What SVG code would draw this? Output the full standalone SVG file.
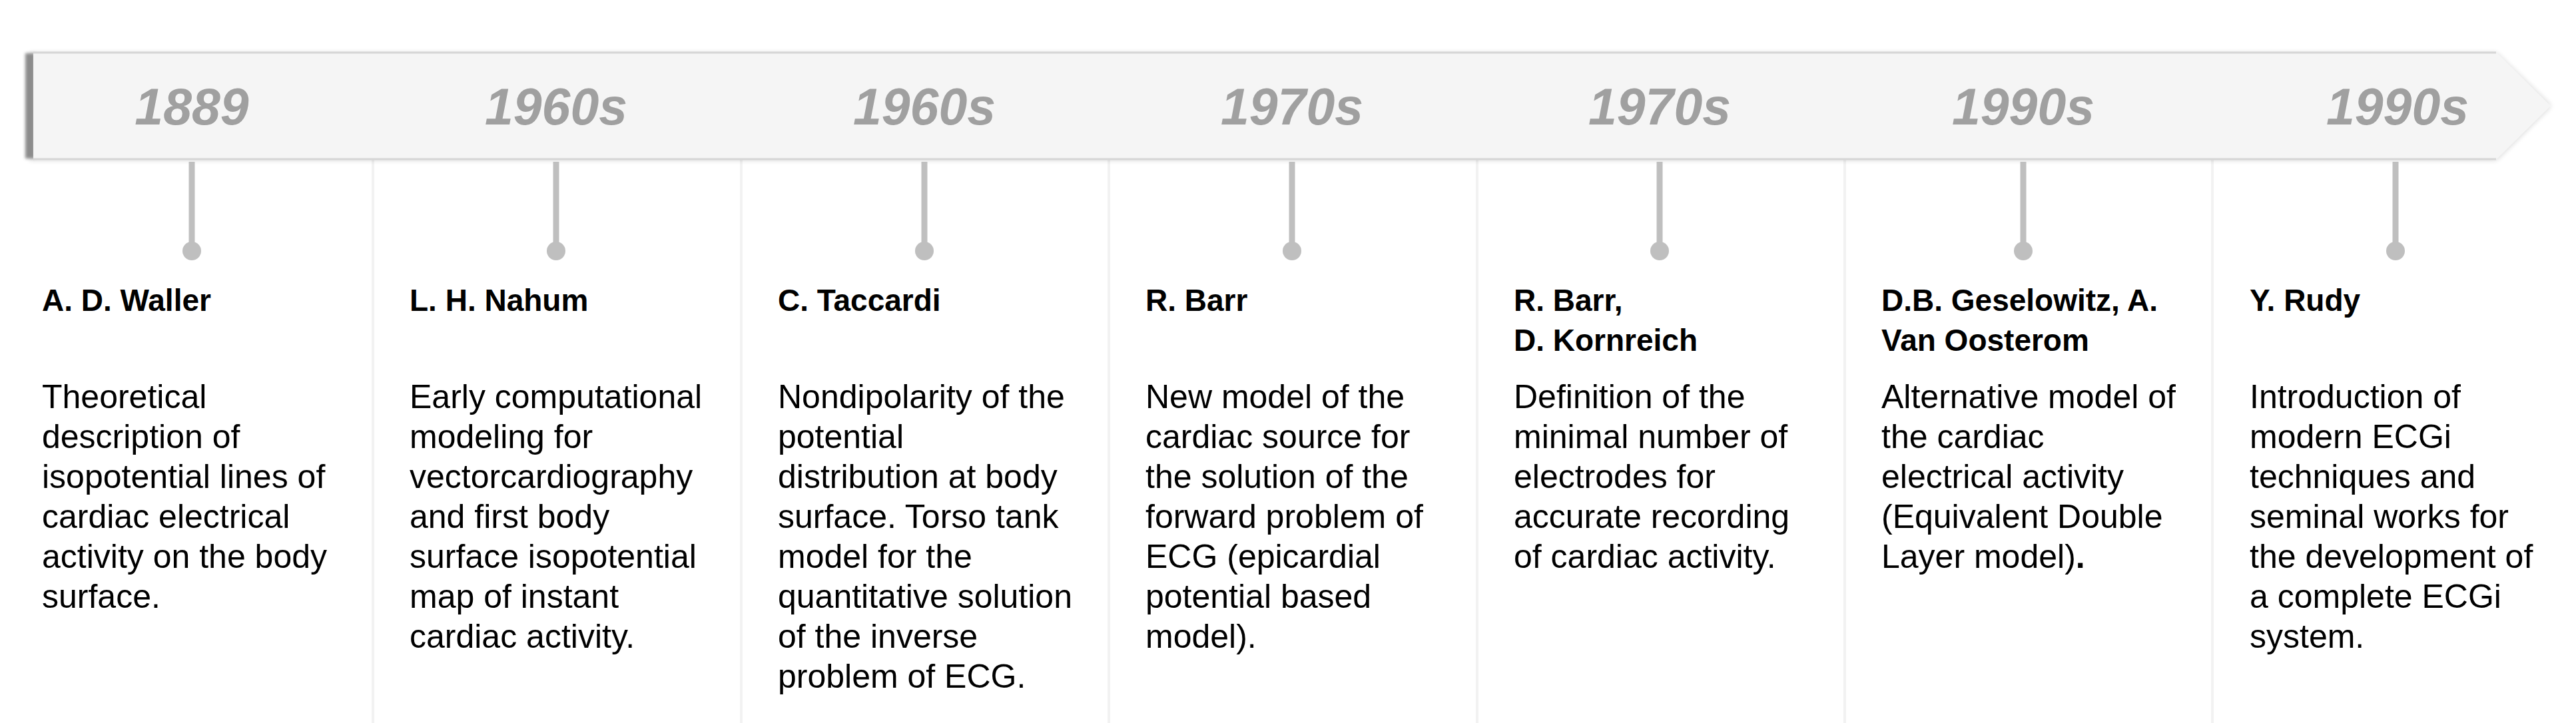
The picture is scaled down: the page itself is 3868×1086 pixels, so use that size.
<svg xmlns="http://www.w3.org/2000/svg" width="3868" height="1086" viewBox="0 0 3868 1086">
  <defs>
    <filter id="soft" x="-5%" y="-30%" width="110%" height="160%">
      <feGaussianBlur stdDeviation="4"/>
    </filter>
    <filter id="edge" x="-100%" y="-10%" width="300%" height="120%">
      <feGaussianBlur stdDeviation="2"/>
    </filter>
    <style>
      .year { font-family: "Liberation Sans", Arial, sans-serif; font-size: 77px; font-weight: bold; font-style: italic; fill: #a0a0a0; text-anchor: middle; }
      .name { font-family: "Liberation Sans", Arial, sans-serif; font-size: 46px; font-weight: bold; fill: #000000; }
      .desc { font-family: "Liberation Sans", Arial, sans-serif; font-size: 50px; fill: #000000; }
      .sep { stroke: #f2f2f2; stroke-width: 4; }
      .stem { stroke: #bfbfbf; stroke-width: 9; }
      .dot { fill: #bfbfbf; }
    </style>
  </defs>
  <rect width="3868" height="1086" fill="#ffffff"/>

  <!-- column separators -->
  <g id="separators">
    <line class="sep" x1="560" y1="240" x2="560" y2="1086"/>
    <line class="sep" x1="1113" y1="240" x2="1113" y2="1086"/>
    <line class="sep" x1="1665" y1="240" x2="1665" y2="1086"/>
    <line class="sep" x1="2218" y1="240" x2="2218" y2="1086"/>
    <line class="sep" x1="2770" y1="240" x2="2770" y2="1086"/>
    <line class="sep" x1="3322" y1="240" x2="3322" y2="1086"/>
  </g>

  <!-- timeline banner -->
  <g id="banner">
    <path d="M44,80 H3748 L3830,159 L3748,240 H44 Z" fill="#000000" opacity="0.18" filter="url(#soft)"/>
    <rect x="38" y="80" width="14" height="158" fill="#8c8c8c" filter="url(#edge)"/>
    <path d="M50,78 H3748 L3830,159 L3748,240 H50 Z" fill="#f5f5f5"/>
    <line x1="50" y1="79" x2="3748" y2="79" stroke="#d6d6d6" stroke-width="3"/>
    <line x1="50" y1="239" x2="3748" y2="239" stroke="#d6d6d6" stroke-width="3"/>
  </g>

  <!-- connectors: stems and dots -->
  <g id="connectors">
    <line class="stem" x1="288" y1="243" x2="288" y2="377"/>
    <circle class="dot" cx="288" cy="377" r="14"/>
    <line class="stem" x1="835" y1="243" x2="835" y2="377"/>
    <circle class="dot" cx="835" cy="377" r="14"/>
    <line class="stem" x1="1388" y1="243" x2="1388" y2="377"/>
    <circle class="dot" cx="1388" cy="377" r="14"/>
    <line class="stem" x1="1940" y1="243" x2="1940" y2="377"/>
    <circle class="dot" cx="1940" cy="377" r="14"/>
    <line class="stem" x1="2492" y1="243" x2="2492" y2="377"/>
    <circle class="dot" cx="2492" cy="377" r="14"/>
    <line class="stem" x1="3038" y1="243" x2="3038" y2="377"/>
    <circle class="dot" cx="3038" cy="377" r="14"/>
    <line class="stem" x1="3597" y1="243" x2="3597" y2="377"/>
    <circle class="dot" cx="3597" cy="377" r="14"/>
  </g>

  <g id="node-1">
    <text class="year" x="288" y="187">1889</text>
    <text class="name" x="63" y="467">A. D. Waller</text>
    <text class="desc" x="63" y="613">Theoretical</text>
    <text class="desc" x="63" y="673">description of</text>
    <text class="desc" x="63" y="733">isopotential lines of</text>
    <text class="desc" x="63" y="793">cardiac electrical</text>
    <text class="desc" x="63" y="853">activity on the body</text>
    <text class="desc" x="63" y="913">surface.</text>
  </g>

  <g id="node-2">
    <text class="year" x="835" y="187">1960s</text>
    <text class="name" x="615" y="467">L. H. Nahum</text>
    <text class="desc" x="615" y="613">Early computational</text>
    <text class="desc" x="615" y="673">modeling for</text>
    <text class="desc" x="615" y="733">vectorcardiography</text>
    <text class="desc" x="615" y="793">and first body</text>
    <text class="desc" x="615" y="853">surface isopotential</text>
    <text class="desc" x="615" y="913">map of instant</text>
    <text class="desc" x="615" y="973">cardiac activity.</text>
  </g>

  <g id="node-3">
    <text class="year" x="1388" y="187">1960s</text>
    <text class="name" x="1168" y="467">C. Taccardi</text>
    <text class="desc" x="1168" y="613">Nondipolarity of the</text>
    <text class="desc" x="1168" y="673">potential</text>
    <text class="desc" x="1168" y="733">distribution at body</text>
    <text class="desc" x="1168" y="793">surface. Torso tank</text>
    <text class="desc" x="1168" y="853">model for the</text>
    <text class="desc" x="1168" y="913">quantitative solution</text>
    <text class="desc" x="1168" y="973">of the inverse</text>
    <text class="desc" x="1168" y="1033">problem of ECG.</text>
  </g>

  <g id="node-4">
    <text class="year" x="1940" y="187">1970s</text>
    <text class="name" x="1720" y="467">R. Barr</text>
    <text class="desc" x="1720" y="613">New model of the</text>
    <text class="desc" x="1720" y="673">cardiac source for</text>
    <text class="desc" x="1720" y="733">the solution of the</text>
    <text class="desc" x="1720" y="793">forward problem of</text>
    <text class="desc" x="1720" y="853">ECG (epicardial</text>
    <text class="desc" x="1720" y="913">potential based</text>
    <text class="desc" x="1720" y="973">model).</text>
  </g>

  <g id="node-5">
    <text class="year" x="2492" y="187">1970s</text>
    <text class="name" x="2273" y="467">R. Barr,</text>
    <text class="name" x="2273" y="527">D. Kornreich</text>
    <text class="desc" x="2273" y="613">Definition of the</text>
    <text class="desc" x="2273" y="673">minimal number of</text>
    <text class="desc" x="2273" y="733">electrodes for</text>
    <text class="desc" x="2273" y="793">accurate recording</text>
    <text class="desc" x="2273" y="853">of cardiac activity.</text>
  </g>

  <g id="node-6">
    <text class="year" x="3038" y="187">1990s</text>
    <text class="name" x="2825" y="467">D.B. Geselowitz, A.</text>
    <text class="name" x="2825" y="527">Van Oosterom</text>
    <text class="desc" x="2825" y="613">Alternative model of</text>
    <text class="desc" x="2825" y="673">the cardiac</text>
    <text class="desc" x="2825" y="733">electrical activity</text>
    <text class="desc" x="2825" y="793">(Equivalent Double</text>
    <text class="desc" x="2825" y="853">Layer model)<tspan font-weight="bold">.</tspan></text>
  </g>

  <g id="node-7">
    <text class="year" x="3600" y="187">1990s</text>
    <text class="name" x="3378" y="467">Y. Rudy</text>
    <text class="desc" x="3378" y="613">Introduction of</text>
    <text class="desc" x="3378" y="673">modern ECGi</text>
    <text class="desc" x="3378" y="733">techniques and</text>
    <text class="desc" x="3378" y="793">seminal works for</text>
    <text class="desc" x="3378" y="853">the development of</text>
    <text class="desc" x="3378" y="913">a complete ECGi</text>
    <text class="desc" x="3378" y="973">system.</text>
  </g>
</svg>
